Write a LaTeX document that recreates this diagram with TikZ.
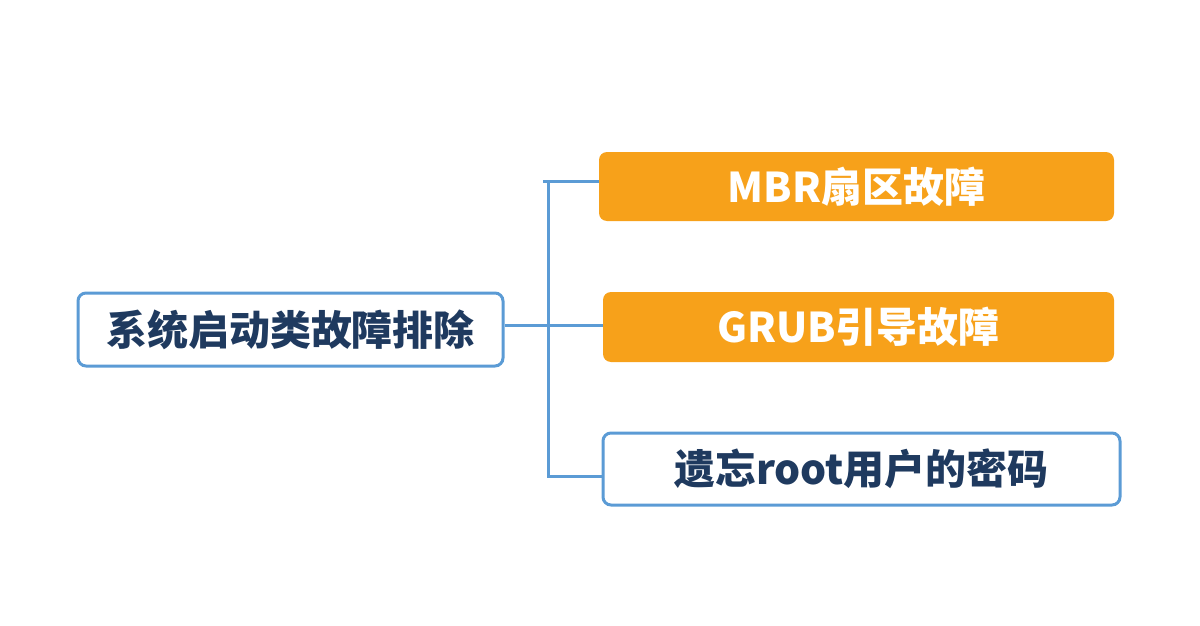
\documentclass[tikz,border=0pt]{standalone}
\usepackage{fontspec}
\setmainfont{Noto Sans CJK SC}
\definecolor{bl}{HTML}{5B9BD5}
\definecolor{tx}{HTML}{1F3A5F}
\definecolor{og}{HTML}{F7A11A}
\begin{document}
\begin{tikzpicture}[x=1pt,y=-1pt,
 box/.style={draw=bl,line width=3pt,rounded corners=8pt,fill=white,text=tx,font=\bfseries\fontsize{41}{46}\selectfont},
 obox/.style={fill=og,rounded corners=8pt,text=white,font=\bfseries\fontsize{41}{46}\selectfont},
 ln/.style={draw=bl,line width=3pt}]
\useasboundingbox (0,0) rectangle (1200,626);
\node[box,minimum width=425pt,minimum height=73pt,inner sep=0pt] (root) at (290.5,329.5) {系统启动类故障排除};
\node[obox,minimum width=515pt,minimum height=69pt,inner sep=0pt] (a) at (856.5,186.5) {MBR扇区故障};
\node[obox,minimum width=511pt,minimum height=70pt,inner sep=0pt] (b) at (858.5,327) {GRUB引导故障};
\node[box,minimum width=517pt,minimum height=72pt,inner sep=0pt] (c) at (861.5,469) {遗忘root用户的密码};
\coordinate (j) at (548,325);
\coordinate (t) at (548,181);
\coordinate (s) at (543,181);
\coordinate (u) at (548,476);
\draw[ln] (root.east |- j) -- (j) -- (b.west |- j);
\draw[ln] (s) -- (a.west |- t);
\draw[ln] (t) -- (u) -- (c.west |- u);
\end{tikzpicture}
\end{document}
